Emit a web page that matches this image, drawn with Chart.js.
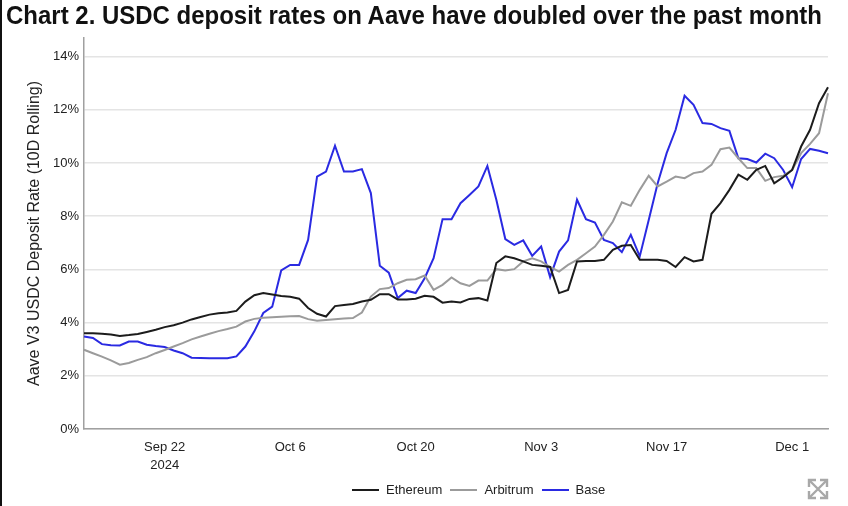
<!DOCTYPE html>
<html>
<head>
<meta charset="utf-8">
<script src="https://cdn.jsdelivr.net/npm/chart.js@4.4.1/dist/chart.umd.min.js"></script>
<style>
  html, body { margin: 0; padding: 0; background: #fff; }
  #wrap { position: relative; width: 848px; height: 506px; overflow: hidden; }
  #wrap::before { content: ''; position: absolute; left: 0; top: 0; bottom: 0; width: 2px; background: #111; }
  #title { position: absolute; left: 6px; top: 0; margin: 0; font: bold 25px 'Liberation Sans Narrow', 'Liberation Sans', Arial, sans-serif; line-height: 30px; color: #111; white-space: nowrap; transform-origin: left top; }
  #chart { position: absolute; left: 0; top: 0; }
  #legend { position: absolute; left: 352px; top: 482px; display: flex; align-items: center; font: 13px 'Liberation Sans', Arial, sans-serif; color: #222; }
  #legend span.sw { display: inline-block; width: 27px; height: 2px; margin-right: 7px; }
  #legend span.tx { margin-right: 8px; }
  #expand { position: absolute; left: 806px; top: 477px; }
</style>
</head>
<body>
<div id="wrap">
  <canvas id="chart" width="848" height="506"></canvas>
  <h1 id="title">Chart 2. USDC deposit rates on Aave have doubled over the past month</h1>
  <div id="legend"></div>
  <svg id="expand" width="24" height="24" viewBox="0 0 24 24"><g stroke="#a8a8a8" stroke-width="2.4" fill="none"><path d="M4 4L20 20M20 4L4 20"/><path d="M3 10V3H10M14 3H21V10M21 14V21H14M10 21H3V14"/></g></svg>
</div>
<script>
// daily 10D rolling deposit rate, %, Sep 13 .. Dec 5 2024
const ethereum = [3.6, 3.6, 3.58, 3.55, 3.5, 3.53, 3.57, 3.65, 3.73, 3.83,
  3.9, 4.0, 4.12, 4.21, 4.3, 4.35, 4.38, 4.44, 4.79, 5.03,
  5.11, 5.06, 5.0, 4.97, 4.9, 4.55, 4.33, 4.23, 4.62, 4.66,
  4.7, 4.79, 4.86, 5.07, 5.07, 4.87, 4.87, 4.9, 5.01, 4.97,
  4.75, 4.79, 4.76, 4.89, 4.92, 4.83, 6.24, 6.49, 6.42, 6.3,
  6.17, 6.14, 6.09, 5.11, 5.23, 6.3, 6.32, 6.32, 6.36, 6.74,
  6.89, 6.92, 6.36, 6.36, 6.36, 6.32, 6.09, 6.46, 6.3, 6.36,
  8.09, 8.49, 8.99, 9.56, 9.37, 9.74, 9.89, 9.24, 9.47, 9.74,
  10.62, 11.25, 12.25, 12.85];
const arbitrum = [2.98, 2.85, 2.72, 2.58, 2.42, 2.48, 2.6, 2.7, 2.85, 2.97,
  3.1, 3.23, 3.37, 3.48, 3.58, 3.68, 3.76, 3.85, 4.04, 4.14,
  4.18, 4.2, 4.22, 4.24, 4.25, 4.13, 4.07, 4.1, 4.13, 4.15,
  4.17, 4.38, 4.98, 5.26, 5.3, 5.48, 5.61, 5.63, 5.77, 5.23,
  5.42, 5.7, 5.48, 5.38, 5.58, 5.58, 6.01, 5.96, 6.01, 6.3,
  6.42, 6.3, 6.09, 5.92, 6.17, 6.36, 6.61, 6.86, 7.3, 7.8,
  8.52, 8.39, 8.99, 9.52, 9.12, 9.3, 9.49, 9.43, 9.62, 9.68,
  9.93, 10.52, 10.58, 10.18, 9.81, 9.81, 9.33, 9.47, 9.52, 9.74,
  10.37, 10.72, 11.12, 12.62];
const base = [3.48, 3.42, 3.19, 3.15, 3.14, 3.29, 3.29, 3.17, 3.12, 3.08,
  2.95, 2.85, 2.68, 2.67, 2.66, 2.66, 2.66, 2.73, 3.1, 3.67,
  4.36, 4.6, 5.96, 6.17, 6.17, 7.11, 9.49, 9.68, 10.65, 9.68,
  9.68, 9.77, 8.87, 6.14, 5.88, 4.92, 5.2, 5.11, 5.67, 6.42,
  7.89, 7.89, 8.49, 8.8, 9.12, 9.89, 8.62, 7.14, 6.92, 7.09,
  6.51, 6.86, 5.71, 6.67, 7.09, 8.62, 7.89, 7.76, 7.11, 6.99,
  6.65, 7.3, 6.49, 7.86, 9.24, 10.37, 11.25, 12.53, 12.19, 11.5,
  11.47, 11.31, 11.21, 10.18, 10.15, 10.02, 10.35, 10.18, 9.74, 9.09,
  10.15, 10.53, 10.46, 10.37];
const xTickLabels = ['Sep 22', 'Oct 6', 'Oct 20', 'Nov 3', 'Nov 17', 'Dec 1'];
const yearLabel = '2024';
const yTicks = [0, 2, 4, 6, 8, 10, 12, 14];

const monthNames = ['Jan', 'Feb', 'Mar', 'Apr', 'May', 'Jun', 'Jul', 'Aug', 'Sep', 'Oct', 'Nov', 'Dec'];
const dates = [];
for (let d = new Date(2024, 8, 13); dates.length < ethereum.length; d.setDate(d.getDate() + 1)) {
    dates.push(monthNames[d.getMonth()] + ' ' + d.getDate());
}

const fontFamily = "'Liberation Sans', Arial, sans-serif";
const seriesStyle = [
    { label: 'Ethereum', data: ethereum, color: '#1c1c1c' },
    { label: 'Arbitrum', data: arbitrum, color: '#9b9b9b' },
    { label: 'Base', data: base, color: '#2a2ae2' }
];

const canvasContext = document.getElementById('chart').getContext('2d');
new Chart(canvasContext, {
    type: 'line',
    data: {
        labels: dates,
        datasets: seriesStyle.map(s => ({ label: s.label, data: s.data, borderColor: s.color, backgroundColor: s.color, borderWidth: 2, pointRadius: 0, tension: 0 }))
    },
    options: {
        responsive: false,
        animation: false,
        layout: { padding: { top: 38, right: 20, bottom: 0, left: 0 } },
        plugins: { legend: { display: false }, tooltip: { enabled: false } },
        scales: {
            x: {
                offset: false,
                grid: { display: false, drawTicks: false },
                border: { color: '#a0a0a0', width: 1.5 },
                ticks: {
                    autoSkip: false, maxRotation: 0, padding: 10, color: '#222',
                    font: { family: fontFamily, size: 13, lineHeight: 1.35 },
                    callback: function(value) {
                        const lbl = this.getLabelForValue(value);
                        if (!xTickLabels.includes(lbl)) return null;
                        return lbl === xTickLabels[0] ? [lbl, yearLabel] : lbl;
                    }
                },
                afterFit: scale => { scale.height = 77; }
            },
            y: {
                min: 0, max: 14.7,
                afterBuildTicks: scale => { scale.ticks = yTicks.map(v => ({ value: v })); },
                ticks: { padding: 5, color: '#222', font: { family: fontFamily, size: 13 }, callback: v => v + '%' },
                grid: { color: '#e4e4e4', lineWidth: 1.5, drawTicks: false },
                border: { color: '#a0a0a0', width: 1.5 },
                title: { display: true, text: 'Aave V3 USDC Deposit Rate (10D Rolling)', color: '#222', font: { family: fontFamily, size: 16 }, padding: { top: 25, bottom: 0 } },
                afterFit: scale => { scale.width = 84; }
            }
        }
    }
});

const legendBox = document.getElementById('legend');
seriesStyle.forEach(s => {
    legendBox.insertAdjacentHTML('beforeend', `<span class="sw" style="background:${s.color}"></span><span class="tx">${s.label}</span>`);
});

const titleEl = document.getElementById('title');
const titleWidth = titleEl.getBoundingClientRect().width;
titleEl.style.transform = `scaleX(${816 / titleWidth})`;
</script>
</body>
</html>
